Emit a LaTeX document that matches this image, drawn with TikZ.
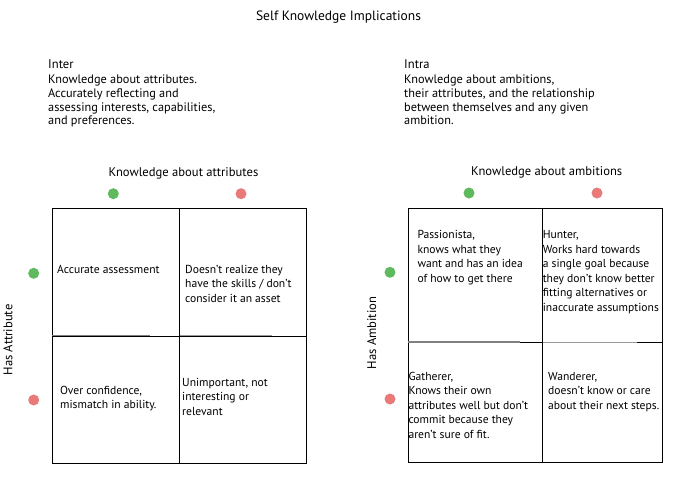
\documentclass[tikz,border=0pt]{standalone}
\usepackage{fontspec}
\setmainfont{PT Sans}

\begin{document}
\begin{tikzpicture}[x=1pt, y=-1pt,
    cell/.style={anchor=north west, inner sep=0pt, align=left, font=\fontsize{11.6}{14.5}\selectfont},
    intro/.style={anchor=north west, inner sep=0pt, align=left, font=\fontsize{12.3}{13.8}\selectfont},
    axis/.style={inner sep=0pt, font=\fontsize{12.6}{14}\selectfont},
    dot/.style={circle, inner sep=0pt, minimum size=11pt, draw=none}]
    \definecolor{yes}{RGB}{95,185,95}
    \definecolor{no}{RGB}{232,122,122}
    \fill[white] (0, 0) rectangle (676, 476);

    \node[inner sep=0pt, font=\fontsize{13.5}{15}\selectfont] (title) at (338.5, 17.5) {Self Knowledge Implications};

    % intro texts
    \node[intro, font=\fontsize{12.6}{14}\selectfont] (inter) at (48, 59) {Inter};
    \node[intro] (interdesc) at (48, 74.5) {Knowledge about attributes.\\Accurately reflecting and\\assessing interests, capabilities,\\and preferences.};
    \node[intro, font=\fontsize{12.6}{14}\selectfont] (intra) at (404, 59) {Intra};
    \node[intro] (intradesc) at (404, 74.5) {Knowledge about ambitions,\\their attributes, and the relationship\\between themselves and any given\\ambition.};

    % left grid
    \node[axis] (knowattr) at (183.5, 173) {Knowledge about attributes};
    \node[axis, rotate=90] (hasattr) at (8, 340) {Has Attribute};
    \draw (51.7, 208.3) rectangle (306.3, 463);
    \draw (179.3, 208.3) -- (179.3, 463);
    \draw (51.7, 335.7) -- (306.3, 335.7);
    \draw[gray, line width=1.3pt] (51.7, 335.7) -- (150, 335.7);
    \draw[gray!80, line width=1pt] (179.8, 335.7) -- (272, 335.7);

    \node[cell] (accurate) at (57, 265.5) {Accurate assessment};
    \node[cell] (doesnt) at (185, 265) {Doesn't realize they\\have the skills / don't\\consider it an asset};
    \node[cell] (over) at (60, 386) {Over confidence,\\mismatch in ability.};
    \node[cell] (unimp) at (182, 378) {Unimportant, not\\interesting or\\relevant};

    % right grid
    \node[axis] (knowamb) at (546.7, 172.5) {Knowledge about ambitions};
    \node[axis, rotate=90] (hasamb) at (371.7, 333) {Has Ambition};
    \draw (407.7, 207.7) rectangle (662.3, 462.3);
    \draw (542.3, 207.7) -- (542.3, 462.3);
    \draw (407.7, 342) -- (662.3, 342);
    \draw[gray, line width=1.3pt] (407.7, 342) -- (520, 342);
    \draw[gray!80, line width=1pt] (542.8, 342) -- (636.7, 342);

    \node[cell] (passion) at (417.3, 230.5) {Passionista,\\knows what they\\want and has an idea\\of how to get there};
    \node[cell] (hunter) at (542.6, 230.5) {Hunter,\\Works hard towards\\a single goal because\\they don't know better\\fitting alternatives or\\inaccurate assumptions};
    \node[cell] (gatherer) at (408.3, 372) {Gatherer,\\Knows their own\\attributes well but don't\\commit because they\\aren't sure of fit.};
    \node[cell] (wanderer) at (548, 372) {Wanderer,\\doesn't know or care\\about their next steps.};

    % dots
    \foreach \name/\x/\y/\c in {ga/113.3/193.7/yes, ra/241/193.7/no, gl/33.7/273.3/yes, rl/33.7/400/no,
                                gb/469/193/yes, rb/597/193/no, gr/390/272.3/yes, rr/390/399/no} {
        \node[dot, fill=\c] (\name) at (\x, \y) {};
    }
\end{tikzpicture}
\end{document}
